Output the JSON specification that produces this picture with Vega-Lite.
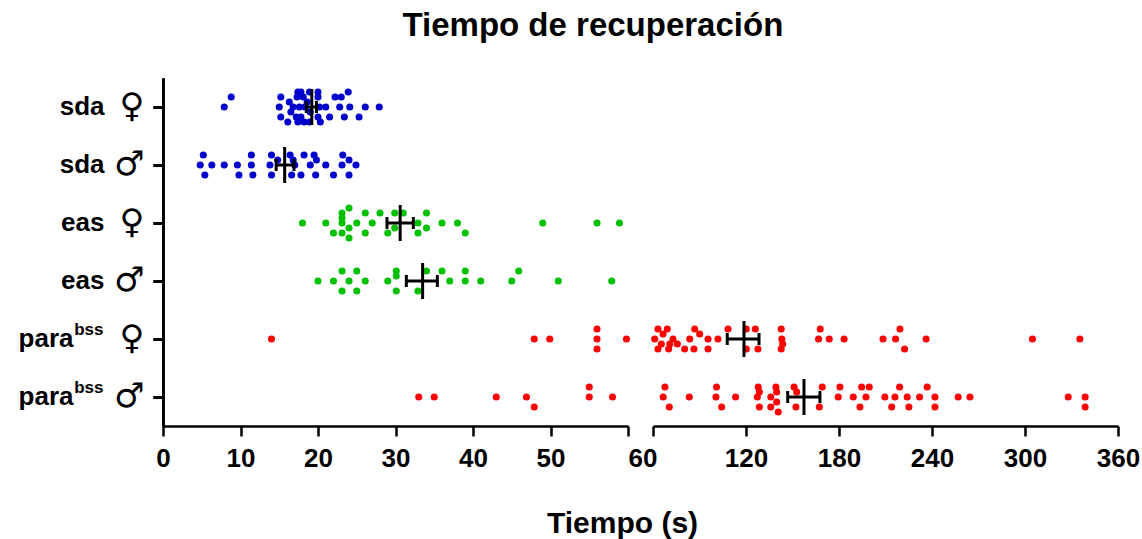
{
  "$schema": "https://vega.github.io/schema/vega-lite/v6.json",
  "padding": {"left": 18, "top": 10, "right": 10, "bottom": 5},
  "background": "white",
  "title": {"text": "Tiempo de recuperación", "font": "Liberation Sans", "fontSize": 33, "fontWeight": "bold", "color": "black", "anchor": "middle", "offset": 35, "dx": 14},
  "config": {
    "view": {"stroke": null},
    "font": "Liberation Sans",
    "axis": {"grid": false, "domainColor": "black", "tickColor": "black", "labelColor": "black", "titleColor": "black", "domainWidth": 2.5, "tickWidth": 2.5, "labelFont": "Liberation Sans", "titleFont": "Liberation Sans", "labelOverlap": false, "labelFlush": false, "labelBound": false}
  },
  "spacing": 25,
  "bounds": "flush",
  "datasets": {
    "pts": [
      {"c":"sda-f","g":"sda","v":7.9,"k":0},{"c":"sda-f","g":"sda","v":8.8,"k":-1},{"c":"sda-f","g":"sda","v":15.2,"k":-1},{"c":"sda-f","g":"sda","v":15.0,"k":0},{"c":"sda-f","g":"sda","v":15.2,"k":1},{"c":"sda-f","g":"sda","v":16.1,"k":1.5},{"c":"sda-f","g":"sda","v":16.8,"k":0},{"c":"sda-f","g":"sda","v":17.4,"k":-1.5},{"c":"sda-f","g":"sda","v":17.8,"k":-1.5},{"c":"sda-f","g":"sda","v":17.3,"k":-1},{"c":"sda-f","g":"sda","v":18.1,"k":-1},{"c":"sda-f","g":"sda","v":17.6,"k":0},{"c":"sda-f","g":"sda","v":18.3,"k":0},{"c":"sda-f","g":"sda","v":17.2,"k":1},{"c":"sda-f","g":"sda","v":17.8,"k":1},{"c":"sda-f","g":"sda","v":17.4,"k":1.5},{"c":"sda-f","g":"sda","v":18.2,"k":1.5},{"c":"sda-f","g":"sda","v":18.9,"k":-1.5},{"c":"sda-f","g":"sda","v":20.0,"k":-1.5},{"c":"sda-f","g":"sda","v":20.0,"k":-1},{"c":"sda-f","g":"sda","v":20.2,"k":0},{"c":"sda-f","g":"sda","v":20.0,"k":1},{"c":"sda-f","g":"sda","v":18.9,"k":1.5},{"c":"sda-f","g":"sda","v":20.3,"k":1.5},{"c":"sda-f","g":"sda","v":21.5,"k":1},{"c":"sda-f","g":"sda","v":22.2,"k":-1},{"c":"sda-f","g":"sda","v":23.0,"k":-1},{"c":"sda-f","g":"sda","v":22.8,"k":0},{"c":"sda-f","g":"sda","v":23.9,"k":-1.5},{"c":"sda-f","g":"sda","v":24.1,"k":0},{"c":"sda-f","g":"sda","v":23.4,"k":1},{"c":"sda-f","g":"sda","v":26.1,"k":0},{"c":"sda-f","g":"sda","v":27.9,"k":0},{"c":"sda-f","g":"sda","v":25.3,"k":1},{"c":"sda-f","g":"sda","v":16.3,"k":-0.5},{"c":"sda-f","g":"sda","v":19.0,"k":0.5},{"c":"sda-f","g":"sda","v":21.0,"k":0},{"c":"sda-f","g":"sda","v":18.6,"k":-0.5},{"c":"sda-f","g":"sda","v":16.5,"k":0.5},
      {"c":"sda-m","g":"sda","v":5.2,"k":-1},{"c":"sda-m","g":"sda","v":4.8,"k":0},{"c":"sda-m","g":"sda","v":6.3,"k":0},{"c":"sda-m","g":"sda","v":5.4,"k":1},{"c":"sda-m","g":"sda","v":7.9,"k":0},{"c":"sda-m","g":"sda","v":9.6,"k":0},{"c":"sda-m","g":"sda","v":9.8,"k":1},{"c":"sda-m","g":"sda","v":11.4,"k":-1},{"c":"sda-m","g":"sda","v":11.4,"k":0},{"c":"sda-m","g":"sda","v":11.6,"k":1},{"c":"sda-m","g":"sda","v":14.0,"k":-1},{"c":"sda-m","g":"sda","v":13.8,"k":0},{"c":"sda-m","g":"sda","v":14.0,"k":1},{"c":"sda-m","g":"sda","v":14.8,"k":-0.5},{"c":"sda-m","g":"sda","v":16.4,"k":-1},{"c":"sda-m","g":"sda","v":16.8,"k":-0.5},{"c":"sda-m","g":"sda","v":17.0,"k":0},{"c":"sda-m","g":"sda","v":16.6,"k":1},{"c":"sda-m","g":"sda","v":17.8,"k":1},{"c":"sda-m","g":"sda","v":18.2,"k":-1},{"c":"sda-m","g":"sda","v":19.0,"k":0},{"c":"sda-m","g":"sda","v":19.5,"k":-1},{"c":"sda-m","g":"sda","v":19.8,"k":-0.5},{"c":"sda-m","g":"sda","v":19.7,"k":1},{"c":"sda-m","g":"sda","v":21.0,"k":0},{"c":"sda-m","g":"sda","v":22.0,"k":1},{"c":"sda-m","g":"sda","v":23.2,"k":-1},{"c":"sda-m","g":"sda","v":23.1,"k":0},{"c":"sda-m","g":"sda","v":24.0,"k":-0.5},{"c":"sda-m","g":"sda","v":24.0,"k":1},{"c":"sda-m","g":"sda","v":24.9,"k":0},
      {"c":"eas-f","g":"eas","v":18.0,"k":0},{"c":"eas-f","g":"eas","v":21.0,"k":0},{"c":"eas-f","g":"eas","v":22.0,"k":1},{"c":"eas-f","g":"eas","v":23.1,"k":-1},{"c":"eas-f","g":"eas","v":23.1,"k":-0.5},{"c":"eas-f","g":"eas","v":23.1,"k":0},{"c":"eas-f","g":"eas","v":23.1,"k":1},{"c":"eas-f","g":"eas","v":24.0,"k":-1.5},{"c":"eas-f","g":"eas","v":24.0,"k":0.5},{"c":"eas-f","g":"eas","v":24.0,"k":1.5},{"c":"eas-f","g":"eas","v":25.0,"k":0},{"c":"eas-f","g":"eas","v":26.1,"k":-1},{"c":"eas-f","g":"eas","v":26.1,"k":1},{"c":"eas-f","g":"eas","v":27.0,"k":0},{"c":"eas-f","g":"eas","v":28.0,"k":-1},{"c":"eas-f","g":"eas","v":29.0,"k":1},{"c":"eas-f","g":"eas","v":29.9,"k":-1},{"c":"eas-f","g":"eas","v":29.9,"k":0.5},{"c":"eas-f","g":"eas","v":31.0,"k":-1},{"c":"eas-f","g":"eas","v":32.9,"k":0},{"c":"eas-f","g":"eas","v":32.9,"k":1},{"c":"eas-f","g":"eas","v":34.0,"k":-1},{"c":"eas-f","g":"eas","v":34.0,"k":0.5},{"c":"eas-f","g":"eas","v":36.0,"k":0},{"c":"eas-f","g":"eas","v":38.0,"k":0},{"c":"eas-f","g":"eas","v":39.0,"k":1},{"c":"eas-f","g":"eas","v":49.0,"k":0},{"c":"eas-f","g":"eas","v":56.0,"k":0},{"c":"eas-f","g":"eas","v":58.9,"k":0},
      {"c":"eas-m","g":"eas","v":20.0,"k":0},{"c":"eas-m","g":"eas","v":22.0,"k":0},{"c":"eas-m","g":"eas","v":23.1,"k":-1},{"c":"eas-m","g":"eas","v":23.1,"k":1},{"c":"eas-m","g":"eas","v":24.0,"k":0},{"c":"eas-m","g":"eas","v":25.0,"k":-1},{"c":"eas-m","g":"eas","v":25.0,"k":1},{"c":"eas-m","g":"eas","v":26.1,"k":0},{"c":"eas-m","g":"eas","v":29.0,"k":0},{"c":"eas-m","g":"eas","v":30.1,"k":-1},{"c":"eas-m","g":"eas","v":30.1,"k":-0.5},{"c":"eas-m","g":"eas","v":30.1,"k":1},{"c":"eas-m","g":"eas","v":32.9,"k":1},{"c":"eas-m","g":"eas","v":34.0,"k":-1},{"c":"eas-m","g":"eas","v":36.0,"k":-1},{"c":"eas-m","g":"eas","v":37.0,"k":0},{"c":"eas-m","g":"eas","v":39.0,"k":-1},{"c":"eas-m","g":"eas","v":39.0,"k":0},{"c":"eas-m","g":"eas","v":41.0,"k":0},{"c":"eas-m","g":"eas","v":45.0,"k":0},{"c":"eas-m","g":"eas","v":45.9,"k":-1},{"c":"eas-m","g":"eas","v":51.0,"k":0},{"c":"eas-m","g":"eas","v":57.9,"k":0},
      {"c":"para-f","g":"para","v":14.0,"k":0},{"c":"para-f","g":"para","v":47.9,"k":0},{"c":"para-f","g":"para","v":49.9,"k":0},{"c":"para-f","g":"para","v":56.0,"k":-1},{"c":"para-f","g":"para","v":56.0,"k":0},{"c":"para-f","g":"para","v":56.0,"k":1},{"c":"para-f","g":"para","v":59.8,"k":0},
      {"c":"para-f","g":"para","v":63.2,"k":-1},{"c":"para-f","g":"para","v":69.2,"k":-1},{"c":"para-f","g":"para","v":61.1,"k":0},{"c":"para-f","g":"para","v":66.5,"k":-0.5},{"c":"para-f","g":"para","v":72.9,"k":0},{"c":"para-f","g":"para","v":65.4,"k":0.5},{"c":"para-f","g":"para","v":70.8,"k":0.5},{"c":"para-f","g":"para","v":63.2,"k":1},{"c":"para-f","g":"para","v":70.1,"k":1},{"c":"para-f","g":"para","v":75.7,"k":0.5},{"c":"para-f","g":"para","v":80.4,"k":1},{"c":"para-f","g":"para","v":83.7,"k":0},{"c":"para-f","g":"para","v":86.9,"k":-1},{"c":"para-f","g":"para","v":90.1,"k":-0.5},{"c":"para-f","g":"para","v":86.4,"k":1},{"c":"para-f","g":"para","v":95.5,"k":0},{"c":"para-f","g":"para","v":95.5,"k":1},{"c":"para-f","g":"para","v":101.9,"k":0},{"c":"para-f","g":"para","v":108.4,"k":-1},{"c":"para-f","g":"para","v":120.2,"k":-1},{"c":"para-f","g":"para","v":126.0,"k":-1},{"c":"para-f","g":"para","v":120.2,"k":1},{"c":"para-f","g":"para","v":127.7,"k":1},{"c":"para-f","g":"para","v":142.7,"k":-1},{"c":"para-f","g":"para","v":143.1,"k":0},{"c":"para-f","g":"para","v":143.7,"k":0.5},{"c":"para-f","g":"para","v":142.7,"k":1},{"c":"para-f","g":"para","v":167.9,"k":-1},{"c":"para-f","g":"para","v":166.8,"k":0},{"c":"para-f","g":"para","v":173.7,"k":0},{"c":"para-f","g":"para","v":183.3,"k":0},{"c":"para-f","g":"para","v":208.4,"k":0},{"c":"para-f","g":"para","v":216.5,"k":0},{"c":"para-f","g":"para","v":219.3,"k":-1},{"c":"para-f","g":"para","v":222.3,"k":1},{"c":"para-f","g":"para","v":236.2,"k":0},{"c":"para-f","g":"para","v":304.8,"k":0},{"c":"para-f","g":"para","v":335.4,"k":0},
      {"c":"para-m","g":"para","v":33.0,"k":0},{"c":"para-m","g":"para","v":35.0,"k":0},{"c":"para-m","g":"para","v":43.0,"k":0},{"c":"para-m","g":"para","v":46.9,"k":0},{"c":"para-m","g":"para","v":47.9,"k":1},{"c":"para-m","g":"para","v":55.0,"k":-1},{"c":"para-m","g":"para","v":55.0,"k":0},{"c":"para-m","g":"para","v":58.0,"k":0},
      {"c":"para-m","g":"para","v":67.7,"k":-1},{"c":"para-m","g":"para","v":66.6,"k":0},{"c":"para-m","g":"para","v":70.5,"k":1},{"c":"para-m","g":"para","v":83.4,"k":0},{"c":"para-m","g":"para","v":101.0,"k":-1},{"c":"para-m","g":"para","v":100.6,"k":0},{"c":"para-m","g":"para","v":104.3,"k":1},{"c":"para-m","g":"para","v":113.3,"k":0},{"c":"para-m","g":"para","v":127.9,"k":-1},{"c":"para-m","g":"para","v":128.6,"k":-0.5},{"c":"para-m","g":"para","v":127.3,"k":0},{"c":"para-m","g":"para","v":128.6,"k":1},{"c":"para-m","g":"para","v":139.3,"k":-1},{"c":"para-m","g":"para","v":139.8,"k":-0.5},{"c":"para-m","g":"para","v":136.0,"k":0},{"c":"para-m","g":"para","v":139.8,"k":0.5},{"c":"para-m","g":"para","v":136.0,"k":1},{"c":"para-m","g":"para","v":140.8,"k":1.5},{"c":"para-m","g":"para","v":151.0,"k":-1},{"c":"para-m","g":"para","v":152.7,"k":-0.5},{"c":"para-m","g":"para","v":152.2,"k":1},{"c":"para-m","g":"para","v":167.3,"k":1},{"c":"para-m","g":"para","v":169.2,"k":-1},{"c":"para-m","g":"para","v":180.6,"k":-1},{"c":"para-m","g":"para","v":179.5,"k":0},{"c":"para-m","g":"para","v":189.2,"k":0},{"c":"para-m","g":"para","v":194.6,"k":-1},{"c":"para-m","g":"para","v":199.5,"k":-1},{"c":"para-m","g":"para","v":197.4,"k":0},{"c":"para-m","g":"para","v":193.5,"k":1},{"c":"para-m","g":"para","v":209.6,"k":0},{"c":"para-m","g":"para","v":214.0,"k":1},{"c":"para-m","g":"para","v":216.1,"k":0},{"c":"para-m","g":"para","v":219.1,"k":-1},{"c":"para-m","g":"para","v":224.0,"k":0},{"c":"para-m","g":"para","v":225.1,"k":1},{"c":"para-m","g":"para","v":232.0,"k":0},{"c":"para-m","g":"para","v":236.9,"k":-1},{"c":"para-m","g":"para","v":241.9,"k":0},{"c":"para-m","g":"para","v":241.9,"k":1},{"c":"para-m","g":"para","v":256.9,"k":0},{"c":"para-m","g":"para","v":264.5,"k":0},{"c":"para-m","g":"para","v":327.9,"k":0},{"c":"para-m","g":"para","v":338.8,"k":0},{"c":"para-m","g":"para","v":338.8,"k":1}
    ],
    "stats": [
      {"c":"sda-f","m":19.2,"lo":18.5,"hi":19.8},
      {"c":"sda-m","m":15.7,"lo":14.6,"hi":16.9},
      {"c":"eas-f","m":30.6,"lo":28.9,"hi":32.3},
      {"c":"eas-m","m":33.5,"lo":31.4,"hi":35.4},
      {"c":"para-f","m":118.7,"lo":107.9,"hi":128.4},
      {"c":"para-m","m":157.4,"lo":146.9,"hi":167.7}
    ]
  },
  "hconcat": [
    {
      "width": 465,
      "height": 348,
      "resolve": {"axis": {"y": "independent"}},
      "layer": [
        {
          "data": {"name": "pts"},
          "transform": [{"filter": "datum.v <= 60"}],
          "mark": {"type": "circle", "size": 50, "opacity": 1},
          "encoding": {
            "x": {"field": "v", "type": "quantitative", "scale": {"domain": [0, 60], "nice": false, "zero": false},
              "axis": {"values": [0, 10, 20, 30, 40, 50, 60], "title": "Tiempo (s)", "titleX": 459, "titleFontSize": 30, "titleFontWeight": "bold", "titlePadding": 37, "labelFontSize": 26, "labelFontWeight": "bold", "tickSize": 10, "labelPadding": 9,
                "labelAlign": {"condition": {"test": "datum.value == 60", "value": "left"}, "value": "center"}}},
            "y": {"field": "c", "type": "nominal", "scale": {"domain": ["sda-f", "sda-m", "eas-f", "eas-m", "para-f", "para-m"], "paddingInner": 0, "paddingOuter": 0},
              "axis": {"orient": "left", "title": null, "labelExpr": "split(datum.value, '-')[0]", "labelFontSize": 26, "labelFontWeight": "bold", "tickSize": 10,
                "labelPadding": {"condition": {"test": "indexof(datum.value, 'para') == 0", "value": 80}, "value": 49}}},
            "yOffset": {"field": "k", "type": "quantitative", "scale": {"domain": [-2.9, 2.9], "range": [0, 58]}},
            "color": {"field": "g", "type": "nominal", "scale": {"domain": ["sda", "eas", "para"], "range": ["#0000CC", "#00C000", "#FF0000"]}, "legend": null}
          }
        },
        {
          "data": {"name": "stats"},
          "transform": [{"filter": "datum.m <= 60"}],
          "mark": {"type": "rule", "color": "black", "strokeWidth": 3},
          "encoding": {"x": {"field": "lo", "type": "quantitative"}, "x2": {"field": "hi"}, "y": {"field": "c", "type": "nominal", "axis": null}}
        },
        {
          "data": {"name": "stats"},
          "transform": [{"filter": "datum.m <= 60"}],
          "mark": {"type": "tick", "color": "black", "thickness": 3, "size": 12, "opacity": 1},
          "encoding": {"x": {"field": "lo", "type": "quantitative"}, "y": {"field": "c", "type": "nominal", "axis": null}}
        },
        {
          "data": {"name": "stats"},
          "transform": [{"filter": "datum.m <= 60"}],
          "mark": {"type": "tick", "color": "black", "thickness": 3, "size": 12, "opacity": 1},
          "encoding": {"x": {"field": "hi", "type": "quantitative"}, "y": {"field": "c", "type": "nominal", "axis": null}}
        },
        {
          "data": {"name": "stats"},
          "transform": [{"filter": "datum.m <= 60"}],
          "mark": {"type": "tick", "color": "black", "thickness": 3, "size": 36, "opacity": 1},
          "encoding": {"x": {"field": "m", "type": "quantitative"},
            "y": {"field": "c", "type": "nominal",
              "axis": {"orient": "left", "title": null, "labelExpr": "split(datum.value, '-')[1] == 'f' ? '♀' : '♂'", "labelFont": "DejaVu Sans", "labelFontSize": 34, "labelFontWeight": "bold", "tickSize": 10, "labelPadding": 9}}}
        },
        {
          "data": {"name": "stats"},
          "transform": [{"filter": "datum.m <= 60"}],
          "mark": {"type": "tick", "opacity": 0},
          "encoding": {"x": {"field": "m", "type": "quantitative"},
            "y": {"field": "c", "type": "nominal",
              "axis": {"orient": "left", "title": null, "labelExpr": "indexof(datum.value, 'para') == 0 ? 'bss' : ''", "labelFontSize": 17, "labelFontWeight": "bold", "tickSize": 10, "labelPadding": 50, "labelOffset": -9}}}
        }
      ]
    },
    {
      "width": 465,
      "height": 348,
      "layer": [
        {
          "data": {"name": "pts"},
          "transform": [{"filter": "datum.v > 60"}],
          "mark": {"type": "circle", "size": 50, "opacity": 1},
          "encoding": {
            "x": {"field": "v", "type": "quantitative", "scale": {"domain": [60, 360], "nice": false, "zero": false},
              "axis": {"values": [60, 120, 180, 240, 300, 360], "labelExpr": "datum.value == 60 ? '' : datum.label", "title": null, "labelFontSize": 26, "labelFontWeight": "bold", "tickSize": 10, "labelPadding": 9}},
            "y": {"field": "c", "type": "nominal", "scale": {"domain": ["sda-f", "sda-m", "eas-f", "eas-m", "para-f", "para-m"], "paddingInner": 0, "paddingOuter": 0}, "axis": null},
            "yOffset": {"field": "k", "type": "quantitative", "scale": {"domain": [-2.9, 2.9], "range": [0, 58]}},
            "color": {"field": "g", "type": "nominal", "scale": {"domain": ["sda", "eas", "para"], "range": ["#0000CC", "#00C000", "#FF0000"]}, "legend": null}
          }
        },
        {
          "data": {"name": "stats"},
          "transform": [{"filter": "datum.m > 60"}],
          "mark": {"type": "rule", "color": "black", "strokeWidth": 3},
          "encoding": {"x": {"field": "lo", "type": "quantitative"}, "x2": {"field": "hi"}, "y": {"field": "c", "type": "nominal", "axis": null}}
        },
        {
          "data": {"name": "stats"},
          "transform": [{"filter": "datum.m > 60"}],
          "mark": {"type": "tick", "color": "black", "thickness": 3, "size": 12, "opacity": 1},
          "encoding": {"x": {"field": "lo", "type": "quantitative"}, "y": {"field": "c", "type": "nominal", "axis": null}}
        },
        {
          "data": {"name": "stats"},
          "transform": [{"filter": "datum.m > 60"}],
          "mark": {"type": "tick", "color": "black", "thickness": 3, "size": 12, "opacity": 1},
          "encoding": {"x": {"field": "hi", "type": "quantitative"}, "y": {"field": "c", "type": "nominal", "axis": null}}
        },
        {
          "data": {"name": "stats"},
          "transform": [{"filter": "datum.m > 60"}],
          "mark": {"type": "tick", "color": "black", "thickness": 3, "size": 36, "opacity": 1},
          "encoding": {"x": {"field": "m", "type": "quantitative"}, "y": {"field": "c", "type": "nominal", "axis": null}}
        }
      ]
    }
  ]
}
